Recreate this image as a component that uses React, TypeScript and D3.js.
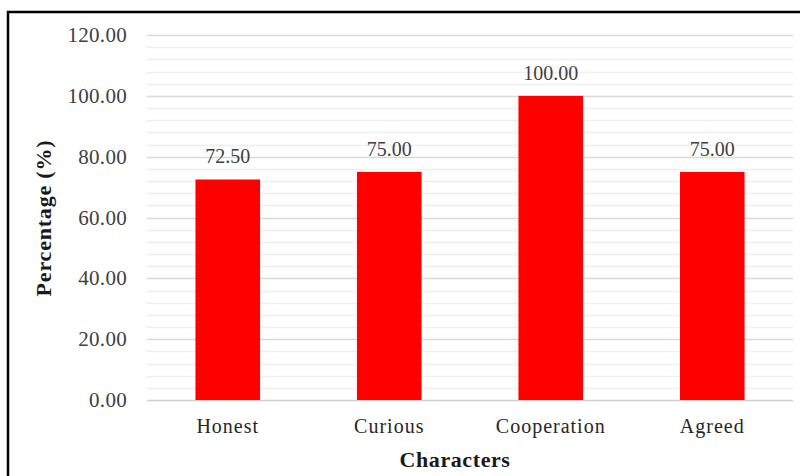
import React, { useRef, useEffect } from 'react';
import * as d3 from 'd3';

const categories = ['Honest', 'Curious', 'Cooperation', 'Agreed'];
const values = [72.5, 75.0, 100.0, 75.0];
const yTicks = [0, 20, 40, 60, 80, 100, 120];
const yMinorTicks = d3.range(0, 121, 4);

const WIDTH = 800;
const HEIGHT = 476;

const App: React.FC = () => {
  const svgRef = useRef<SVGSVGElement>(null);

  useEffect(() => {
    if (!svgRef.current) return;
    const svg = d3.select(svgRef.current);
    svg.selectAll('*').remove();

    const font = '"Liberation Serif", "Times New Roman", serif';
    const textColor = '#404040';

    // frame around the chart (right and bottom edges fall outside the picture)
    svg.append('rect')
      .attr('x', 8)
      .attr('y', 12)
      .attr('width', 820)
      .attr('height', 500)
      .attr('fill', 'white')
      .attr('stroke', '#000')
      .attr('stroke-width', 2.5);

    const x = d3.scaleBand<string>()
      .domain(categories)
      .range([147, 793])
      .paddingInner(0.6)
      .paddingOuter(0.3);

    const y = d3.scaleLinear()
      .domain([0, 120])
      .range([400, 35]);

    const g = svg.append('g');

    // minor grid
    g.selectAll('.minor-grid')
      .data(yMinorTicks.filter(d => d % 20 !== 0))
      .enter()
      .append('line')
      .attr('x1', 147)
      .attr('x2', 793)
      .attr('y1', d => Math.round(y(d)) + 0.5)
      .attr('y2', d => Math.round(y(d)) + 0.5)
      .attr('stroke', '#efefef')
      .attr('stroke-width', 1.5);

    // major grid
    g.selectAll('.major-grid')
      .data(yTicks)
      .enter()
      .append('line')
      .attr('x1', 147)
      .attr('x2', 793)
      .attr('y1', d => Math.round(y(d)) + 0.5)
      .attr('y2', d => Math.round(y(d)) + 0.5)
      .attr('stroke', d => (d === 0 ? '#cfcfcf' : '#d9d9d9'))
      .attr('stroke-width', 1.5);

    // y tick labels
    g.selectAll('.y-label')
      .data(yTicks)
      .enter()
      .append('text')
      .attr('x', 127)
      .attr('y', d => y(d) + 7)
      .attr('text-anchor', 'end')
      .attr('font-family', font)
      .attr('font-size', 21)
      .attr('letter-spacing', 0.3)
      .attr('fill', textColor)
      .text(d => d.toFixed(2));

    // bars
    g.selectAll('.bar')
      .data(values)
      .enter()
      .append('rect')
      .attr('x', (_, i) => x(categories[i])!)
      .attr('y', d => y(d))
      .attr('width', x.bandwidth())
      .attr('height', d => y(0) - y(d))
      .attr('fill', '#ff0000');

    // value labels
    g.selectAll('.value-label')
      .data(values)
      .enter()
      .append('text')
      .attr('x', (_, i) => x(categories[i])! + x.bandwidth() / 2)
      .attr('y', d => y(d) - 16)
      .attr('text-anchor', 'middle')
      .attr('font-family', font)
      .attr('font-size', 20)
      .attr('fill', textColor)
      .text(d => d.toFixed(2));

    // category labels
    g.selectAll('.cat-label')
      .data(categories)
      .enter()
      .append('text')
      .attr('x', d => x(d)! + x.bandwidth() / 2)
      .attr('y', 433)
      .attr('text-anchor', 'middle')
      .attr('font-family', font)
      .attr('font-size', 20)
      .attr('letter-spacing', 1)
      .attr('fill', '#262626')
      .text(d => d);

    // axis titles
    svg.append('text')
      .attr('x', 455)
      .attr('y', 467)
      .attr('text-anchor', 'middle')
      .attr('font-family', font)
      .attr('font-weight', 'bold')
      .attr('font-size', 22)
      .attr('letter-spacing', 0.6)
      .attr('fill', '#1a1a1a')
      .text('Characters');

    svg.append('text')
      .attr('transform', 'translate(51,218) rotate(-90)')
      .attr('text-anchor', 'middle')
      .attr('font-family', font)
      .attr('font-weight', 'bold')
      .attr('font-size', 22)
      .attr('letter-spacing', 0.8)
      .attr('fill', '#1a1a1a')
      .text('Percentage (%)');
  }, []);

  return (
    <svg
      ref={svgRef}
      width={WIDTH}
      height={HEIGHT}
      style={{ position: 'absolute', left: 0, top: 0, display: 'block' }}
    />
  );
};

export default App;
